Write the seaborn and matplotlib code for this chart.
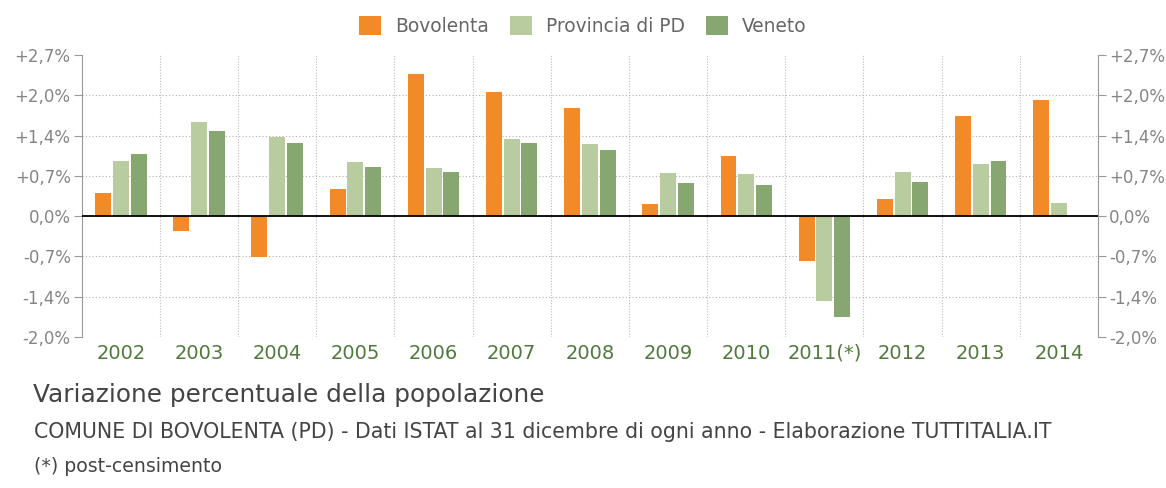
import numpy as np
import pandas as pd
import matplotlib
matplotlib.use("Agg")
import matplotlib.pyplot as plt
import seaborn as sns

# variazione percentuale annua della popolazione
anni = ["2002", "2003", "2004", "2005", "2006", "2007", "2008",
        "2009", "2010", "2011(*)", "2012", "2013", "2014"]
bovolenta = [0.38, -0.25, -0.69, 0.45, 2.38, 2.08, 1.82, 0.20, 1.01, -0.75, 0.28, 1.68, 1.95]
provincia_pd = [0.93, 1.57, 1.33, 0.90, 0.80, 1.29, 1.21, 0.73, 0.71, -1.43, 0.74, 0.88, 0.22]
veneto = [1.04, 1.43, 1.23, 0.82, 0.74, 1.23, 1.10, 0.56, 0.52, -1.69, 0.57, 0.92, np.nan]
serie = ["Bovolenta", "Provincia di PD", "Veneto"]
colori = ["#F28A28", "#B8CCA0", "#86A870"]

df = pd.DataFrame({"anno": anni, serie[0]: bovolenta, serie[1]: provincia_pd, serie[2]: veneto})
df = df.melt(id_vars="anno", var_name="serie", value_name="var")

sns.set_style("white")
plt.rcParams["font.family"] = ["DejaVu Sans"]

fig = plt.figure(figsize=(11.66, 4.88), dpi=100)
ax = fig.add_axes([0.0701, 0.3094, 0.8716, 0.5779])

sns.barplot(data=df, x="anno", y="var", hue="serie", hue_order=serie, order=anni,
            palette=colori, saturation=1, width=0.68, gap=0.1, errorbar=None,
            linewidth=0, ax=ax)

handles, labels = ax.get_legend_handles_labels()
ax.get_legend().remove()

# assi
yticks = np.arange(-3, 5) * 0.675
ax.set_ylim(-2.025, 2.7)
ax.set_xlim(-0.5, len(anni) - 0.5)
ax.set_yticks(yticks)
ylab = ["0,0%" if abs(v) < 1e-9 else f"{v:+.1f}%".replace(".", ",") for v in yticks]
ax.set_yticklabels(ylab)
ax.set_xlabel("")
ax.set_ylabel("")

ax.tick_params(axis="y", left=True, right=True, labelleft=True, labelright=True,
               length=6, width=0.8, color="#999999", labelcolor="#858585", labelsize=12, pad=2)
ax.tick_params(axis="x", length=0, labelcolor="#4E7A3C", labelsize=14, pad=5)

for s in ["top", "bottom"]:
    ax.spines[s].set_visible(False)
for s in ["left", "right"]:
    ax.spines[s].set_color("#999999")
    ax.spines[s].set_linewidth(0.8)

ax.set_axisbelow(True)
ax.yaxis.grid(True, linestyle=(0, (1, 2)), color="#b0b0b0", linewidth=0.8)
ax.yaxis.get_gridlines()[-1].set_visible(False)
ax.set_xticks(np.arange(0.5, len(anni) - 1, 1), minor=True)
ax.xaxis.grid(True, which="minor", linestyle=(0, (1, 1.5)), color="#bcbcbc", linewidth=0.8)
ax.tick_params(axis="x", which="minor", length=0)
ax.axhline(0, color="black", linewidth=1.3, zorder=3)

fig.legend(handles, labels, loc="center", bbox_to_anchor=(583 / 1166, 1 - 26 / 488),
           ncol=3, frameon=False, fontsize=13.4, handlelength=1.16, handleheight=1.2,
           handletextpad=0.78, columnspacing=1.13, labelcolor="#666666")

fig.text(33 / 1166, 1 - 402 / 488, "Variazione percentuale della popolazione",
         fontsize=17.8, color="#444444", va="baseline")
fig.text(34 / 1166, 1 - 438 / 488,
         "COMUNE DI BOVOLENTA (PD) - Dati ISTAT al 31 dicembre di ogni anno - Elaborazione TUTTITALIA.IT",
         fontsize=14.8, color="#444444", va="baseline")
fig.text(34 / 1166, 1 - 472 / 488, "(*) post-censimento",
         fontsize=13.6, color="#444444", va="baseline")

fig.savefig("out.png", dpi=100, facecolor="white")
